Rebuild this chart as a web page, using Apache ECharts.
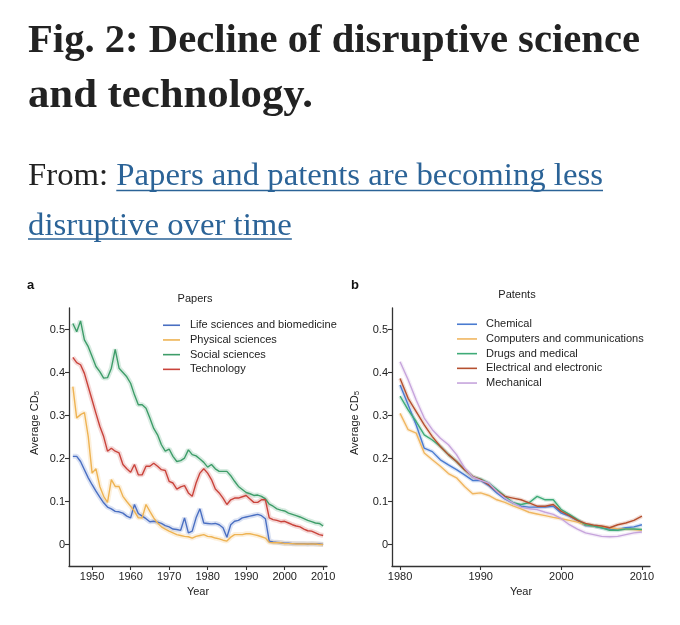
<!DOCTYPE html>
<html><head><meta charset="utf-8">
<script src="https://cdn.jsdelivr.net/npm/echarts@6/dist/echarts.min.js"></script>
<style>html,body{margin:0;padding:0;background:#fff}#c{width:680px;height:625px}</style>
</head><body><div id="c"></div>
<script>
// ---------- data ----------
const paperYears = [1945,1946,1947,1948,1949,1950,1951,1952,1953,1954,1955,1956,1957,1958,1959,1960,1961,1962,1963,1964,1965,1966,1967,1968,1969,1970,1971,1972,1973,1974,1975,1976,1977,1978,1979,1980,1981,1982,1983,1984,1985,1986,1987,1988,1989,1990,1991,1992,1993,1994,1995,1996,1997,1998,1999,2000,2001,2002,2003,2004,2005,2006,2007,2008,2009,2010];
const lifeSciences = [0.205,0.205,0.193,0.174,0.155,0.139,0.124,0.110,0.097,0.087,
  0.083,0.077,0.076,0.073,0.066,0.062,0.093,0.072,0.066,0.060,
  0.053,0.054,0.052,0.049,0.044,0.041,0.036,0.035,0.033,0.062,
  0.027,0.031,0.062,0.083,0.050,0.049,0.048,0.049,0.046,0.039,
  0.017,0.046,0.054,0.056,0.062,0.064,0.066,0.068,0.070,0.067,
  0.060,0.008,0.006,0.005,0.004,0.003,0.003,0.002,0.002,0.002,
  0.002,0.001,0.002,0.001,0.001,0.000];
const physicalSciences = [0.367,0.294,0.302,0.307,0.251,0.166,0.176,0.135,0.112,0.098,
  0.151,0.135,0.135,0.112,0.100,0.089,0.077,0.062,0.062,0.093,
  0.077,0.062,0.050,0.041,0.036,0.031,0.027,0.023,0.021,0.019,
  0.018,0.015,0.019,0.021,0.023,0.019,0.018,0.015,0.013,0.010,
  0.008,0.017,0.023,0.023,0.023,0.025,0.025,0.023,0.021,0.018,
  0.015,0.005,0.004,0.004,0.004,0.002,0.002,0.002,0.001,0.001,
  0.001,0.001,0.001,0.001,0.000,0.000];
const socialSciences = [0.514,0.495,0.520,0.476,0.460,0.437,0.414,0.402,0.387,0.388,
  0.410,0.454,0.410,0.400,0.390,0.375,0.348,0.325,0.325,0.317,
  0.294,0.270,0.255,0.232,0.217,0.222,0.205,0.193,0.195,0.201,
  0.220,0.209,0.206,0.199,0.191,0.180,0.186,0.176,0.170,0.170,
  0.170,0.160,0.147,0.135,0.128,0.121,0.118,0.114,0.115,0.112,
  0.106,0.094,0.089,0.083,0.080,0.078,0.073,0.070,0.067,0.064,
  0.060,0.056,0.053,0.050,0.049,0.043];
const technology = [0.435,0.423,0.418,0.398,0.367,0.336,0.305,0.275,0.251,0.217,
  0.224,0.217,0.213,0.186,0.176,0.168,0.186,0.162,0.162,0.182,
  0.182,0.189,0.182,0.174,0.172,0.147,0.143,0.129,0.134,0.137,
  0.120,0.112,0.143,0.166,0.176,0.166,0.151,0.129,0.120,0.108,
  0.093,0.104,0.108,0.108,0.111,0.114,0.106,0.098,0.098,0.104,
  0.104,0.062,0.058,0.056,0.053,0.054,0.050,0.046,0.043,0.041,
  0.036,0.032,0.031,0.027,0.023,0.021];

const patentYears = [1980,1981,1982,1983,1984,1985,1986,1987,1988,1989,1990,1991,1992,1993,1994,1995,1996,1997,1998,1999,2000,2001,2002,2003,2004,2005,2006,2007,2008,2009,2010];
const chemical = [0.371,0.325,0.278,0.224,0.216,0.197,0.185,0.174,0.162,0.149,0.149,
  0.137,0.120,0.106,0.097,0.089,0.087,0.087,0.087,0.089,0.073,
  0.066,0.056,0.044,0.043,0.039,0.036,0.035,0.039,0.041,0.046];
const computers = [0.305,0.267,0.259,0.213,0.197,0.182,0.165,0.155,0.135,0.118,0.120,
  0.114,0.104,0.098,0.090,0.083,0.075,0.071,0.067,0.063,0.060,
  0.056,0.052,0.046,0.043,0.041,0.039,0.036,0.036,0.035,0.033];
const drugs = [0.345,0.313,0.286,0.255,0.243,0.228,0.209,0.193,0.174,0.158,0.152,
  0.143,0.128,0.112,0.097,0.093,0.097,0.112,0.104,0.104,0.081,
  0.070,0.058,0.046,0.043,0.039,0.033,0.033,0.036,0.036,0.035];
const electrical = [0.386,0.340,0.309,0.278,0.251,0.228,0.209,0.193,0.174,0.158,0.151,
  0.139,0.124,0.112,0.108,0.104,0.097,0.089,0.089,0.093,0.077,
  0.067,0.056,0.049,0.045,0.043,0.039,0.046,0.050,0.056,0.066];
const mechanical = [0.425,0.383,0.336,0.294,0.267,0.247,0.232,0.209,0.178,0.157,0.149,
  0.143,0.124,0.108,0.097,0.087,0.083,0.081,0.075,0.070,0.060,
  0.046,0.036,0.027,0.023,0.019,0.018,0.019,0.023,0.027,0.029];

const paperTicks = [1950,1960,1970,1980,1990,2000,2010];
const patentTicks = [1980,1990,2000,2010];
const yTicks = [0,0.1,0.2,0.3,0.4,0.5];

const paperSeries = [
  {name:'Life sciences and biomedicine', values: lifeSciences, color:'#4a6fc2'},
  {name:'Physical sciences', values: physicalSciences, color:'#eeb353'},
  {name:'Social sciences', values: socialSciences, color:'#3e9d69'},
  {name:'Technology', values: technology, color:'#c9433b'}
];
const patentSeries = [
  {name:'Chemical', values: chemical, color:'#4a7bd0'},
  {name:'Computers and communications', values: computers, color:'#f0b660'},
  {name:'Drugs and medical', values: drugs, color:'#3fab78'},
  {name:'Electrical and electronic', values: electrical, color:'#b5502f'},
  {name:'Mechanical', values: mechanical, color:'#c6a4dc'}
];

// ---------- text layout helpers ----------
const ctx = document.createElement('canvas').getContext('2d');
function tw(text, font){ ctx.font = font; return ctx.measureText(text).width; }
const titleFont = 'bold 41px "Liberation Serif"';
const title1 = 'Fig. 2: Decline of disruptive science';
const title2 = 'and technology.';
const tScale = 612 / tw(title1, titleFont);
const tScale2 = 285 / tw(title2, titleFont);
const subFont = '32px "Liberation Serif"';
const fromTxt = 'From: ';
const link1 = 'Papers and patents are becoming less';
const link2 = 'disruptive over time';
const sScale = 575 / (tw(fromTxt + link1, subFont));
const linkX = 28 + sScale * tw(fromTxt, subFont);
const link2End = 28 + sScale * tw(link2, subFont);
const linkColor = '#2b6397';

const sans = '"Liberation Sans", Arial, sans-serif';
const axisColor = '#333';

function makeAxisX(grid, min, max, ticks){
  return {type:'value', gridIndex:grid, min:min, max:max,
    name:'Year', nameLocation:'middle', nameGap:20,
    nameTextStyle:{fontSize:11, color:'#222', fontFamily:sans},
    axisLine:{onZero:false, lineStyle:{color:axisColor, width:1.3}},
    axisTick:{show:true, length:4, customValues:ticks, lineStyle:{color:axisColor, width:1.1}},
    axisLabel:{customValues:ticks, fontSize:11, color:'#222', fontFamily:sans, margin:5,
      formatter: v => String(v)},
    splitLine:{show:false}};
}
function makeAxisY(grid, gap){
  return {type:'value', gridIndex:grid, min:-0.05, max:0.55,
    name:'{a|Average CD}{s|5}', nameLocation:'middle', nameGap:gap,
    nameTextStyle:{fontSize:11, color:'#222', fontFamily:sans, padding:[0,0,0,28],
      rich:{a:{fontSize:11, color:'#222', fontFamily:sans}, s:{fontSize:8, color:'#222', fontFamily:sans, verticalAlign:'bottom', padding:[5,0,0,0]}}},
    axisLine:{show:true, onZero:false, lineStyle:{color:axisColor, width:1.3}},
    axisTick:{show:true, length:4, customValues:yTicks, lineStyle:{color:axisColor, width:1.1}},
    axisLabel:{customValues:yTicks, fontSize:11, color:'#222', fontFamily:sans, margin:4,
      formatter: v => (v === 0 ? '0' : v.toFixed(1))},
    splitLine:{show:false}};
}

const series = [];
function addSeries(list, years, idx, haloWidth){
  list.forEach(s => {
    const data = years.map((y,i) => [y, s.values[i]]);
    series.push({name:s.name + ' band', type:'line', xAxisIndex:idx, yAxisIndex:idx, data:data,
      symbol:'none', silent:true, z:1, lineStyle:{color:s.color, width:haloWidth, opacity:0.2}});
  });
  list.forEach(s => {
    const data = years.map((y,i) => [y, s.values[i]]);
    series.push({name:s.name, type:'line', xAxisIndex:idx, yAxisIndex:idx, data:data,
      symbol:'none', z:3, itemStyle:{color:s.color}, lineStyle:{color:s.color, width:1.4}});
  });
}
addSeries(paperSeries, paperYears, 0, 5);
addSeries(patentSeries, patentYears, 1, 4);

const chart = echarts.init(document.getElementById('c'), null, {renderer:'canvas'});
chart.setOption({
  backgroundColor:'#fff',
  animation:false,
  grid:[{left:69, top:308, width:258, height:258}, {left:392, top:308, width:258, height:258}],
  xAxis:[makeAxisX(0, 1944, 2011, paperTicks), makeAxisX(1, 1979, 2011, patentTicks)],
  yAxis:[makeAxisY(0, 28), makeAxisY(1, 31)],
  legend:[
    {data:paperSeries.map(s=>s.name), orient:'vertical', left:163, top:319.5, padding:0,
      icon:'rect', itemWidth:17, itemHeight:1.6, itemGap:3.2, selectedMode:false,
      textStyle:{fontSize:11, lineHeight:11.5, color:'#222', fontFamily:sans, padding:[0,0,0,5]}},
    {data:patentSeries.map(s=>s.name), orient:'vertical', left:457, top:318.5, padding:0,
      icon:'rect', itemWidth:20, itemHeight:1.6, itemGap:3.2, selectedMode:false,
      textStyle:{fontSize:11, lineHeight:11.5, color:'#222', fontFamily:sans, padding:[0,0,0,4]}}
  ],
  series: series,
  graphic:[
    {type:'text', x:28, y:41, scaleX:tScale, style:{text:title1, font:titleFont, fill:'#222', verticalAlign:'middle'}},
    {type:'text', x:28, y:96, scaleX:tScale2, style:{text:title2, font:titleFont, fill:'#222', verticalAlign:'middle'}},
    {type:'text', x:28, y:177, scaleX:sScale, style:{text:fromTxt, font:subFont, fill:'#222', verticalAlign:'middle'}},
    {type:'text', x:linkX, y:177, scaleX:sScale, style:{text:link1, font:subFont, fill:linkColor, verticalAlign:'middle'}},
    {type:'text', x:28, y:227, scaleX:sScale, style:{text:link2, font:subFont, fill:linkColor, verticalAlign:'middle'}},
    {type:'line', shape:{x1:linkX, y1:190.5, x2:603, y2:190.5}, style:{stroke:linkColor, lineWidth:1.5}},
    {type:'line', shape:{x1:28, y1:239, x2:link2End, y2:239}, style:{stroke:linkColor, lineWidth:1.5}},
    {type:'text', x:27, y:285, style:{text:'a', font:'bold 13px ' + sans, fill:'#111', verticalAlign:'middle'}},
    {type:'text', x:351, y:285, style:{text:'b', font:'bold 13px ' + sans, fill:'#111', verticalAlign:'middle'}},
    {type:'text', x:195, y:299, style:{text:'Papers', font:'11px ' + sans, fill:'#222', align:'center', verticalAlign:'middle'}},
    {type:'text', x:517, y:295, style:{text:'Patents', font:'11px ' + sans, fill:'#222', align:'center', verticalAlign:'middle'}}
  ]
});
</script></body></html>
